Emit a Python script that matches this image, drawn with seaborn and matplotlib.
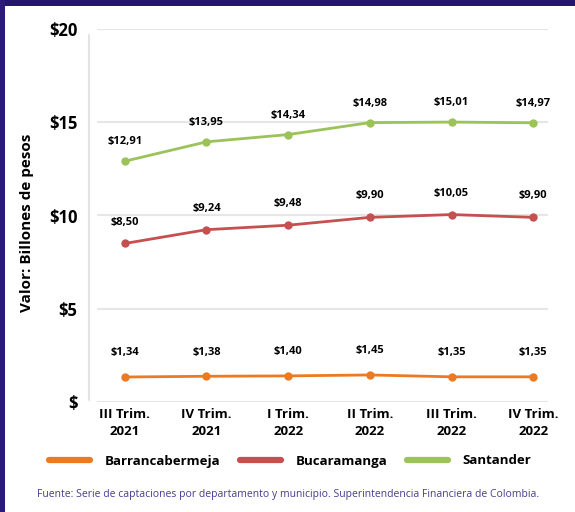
import pandas as pd
import numpy as np
import seaborn as sns
import matplotlib.pyplot as plt
from matplotlib.lines import Line2D
from matplotlib.patches import Rectangle

periods = ['III Trim.\n2021', 'IV Trim.\n2021', 'I Trim.\n2022',
           'II Trim.\n2022', 'III Trim.\n2022', 'IV Trim.\n2022']
barranca = [1.34, 1.38, 1.40, 1.45, 1.35, 1.35]
bucaramanga = [8.50, 9.24, 9.48, 9.90, 10.05, 9.90]
santander = [12.91, 13.95, 14.34, 14.98, 15.01, 14.97]
series_names = ['Barrancabermeja', 'Bucaramanga', 'Santander']
ytick_vals = [0, 5, 10, 15, 20]
ytick_labels = ['$', '$5', '$10', '$15', '$20']

colors = {'Barrancabermeja': '#ec7a22', 'Bucaramanga': '#c4504f', 'Santander': '#9cc25a'}
label_off = {'Barrancabermeja': 13.5, 'Bucaramanga': 11.5, 'Santander': 10}

df = pd.DataFrame({
    'periodo': periods * 3,
    'x': list(range(len(periods))) * 3,
    'valor': barranca + bucaramanga + santander,
    'serie': np.repeat(series_names, len(periods)),
})

sns.set_style('white')
plt.rcParams['font.family'] = ['Open Sans', 'DejaVu Sans']
plt.rcParams['text.color'] = 'black'
plt.rcParams['xtick.color'] = 'black'
plt.rcParams['ytick.color'] = 'black'

fig = plt.figure(figsize=(5.75, 5.12), dpi=100)
fig.patch.set_facecolor('white')
ax = fig.add_axes([97 / 575, 1 - 402 / 512, (548 - 97) / 575, (402 - 29) / 512])

sns.lineplot(data=df, x='x', y='valor', hue='serie', palette=colors,
             marker='o', markersize=6, markeredgewidth=0, linewidth=2,
             legend=False, ax=ax)

for name, vals in zip(series_names, [barranca, bucaramanga, santander]):
    for i, v in enumerate(vals):
        ax.annotate(f"${v:.2f}".replace('.', ','), (i, v),
                    xytext=(0, label_off[name]), textcoords='offset points',
                    ha='center', va='bottom', fontsize=8, fontweight='bold',
                    color='black')

ax.set_xlim(-0.34, 5.18)
ax.set_ylim(0, 20)
ax.set_yticks(ytick_vals)
ax.set_yticklabels(ytick_labels, fontsize=12, fontweight='bold')
ax.set_xticks(range(len(periods)))
ax.set_xticklabels(periods, fontsize=9.5, fontweight='bold', linespacing=1.4)
ax.tick_params(axis='y', length=0, pad=14)
ax.tick_params(axis='x', length=0, pad=4)
ax.set_xlabel('')
ax.set_ylabel('')
ax.grid(axis='y', color='#e6e6e6', linewidth=1.5)
ax.grid(axis='x', visible=False)
for s in ax.spines.values():
    s.set_visible(False)

fig.text(27 / 575, 1 - 223 / 512, 'Valor: Billones de pesos', rotation=90,
         ha='center', va='center', fontsize=11, fontweight='bold', color='black')

# vertical light rule left of the plot
fig.add_artist(Line2D([89 / 575, 89 / 575], [1 - 35 / 512, 1 - 400 / 512],
                      transform=fig.transFigure, color='#e3e3e3', linewidth=1.5))

handles = [Line2D([0], [0], color=colors[n], linewidth=4.5, solid_capstyle='round')
           for n in series_names]
leg = fig.legend(handles, series_names, loc='center', ncol=3,
                 bbox_to_anchor=(0.505, 1 - 461 / 512), frameon=False,
                 handlelength=3.1, handletextpad=1.1, columnspacing=1.5,
                 prop={'weight': 'bold', 'size': 9.5})

fig.text(288 / 575, 1 - 495 / 512,
         'Fuente: Serie de captaciones por departamento y municipio. '
         'Superintendencia Financiera de Colombia.',
         ha='center', va='center', fontsize=7.5, color='#4a3a90',
         family=['Liberation Sans Narrow', 'Open Sans', 'DejaVu Sans'])

# purple frame strips
fig.add_artist(Rectangle((0, 1 - 6 / 512), 1, 6 / 512, transform=fig.transFigure,
                         facecolor='#26156e', edgecolor='none'))
fig.add_artist(Rectangle((0, 0), 5 / 575, 1, transform=fig.transFigure,
                         facecolor='#2c1a7a', edgecolor='none'))

fig.savefig('out.png', dpi=100)
